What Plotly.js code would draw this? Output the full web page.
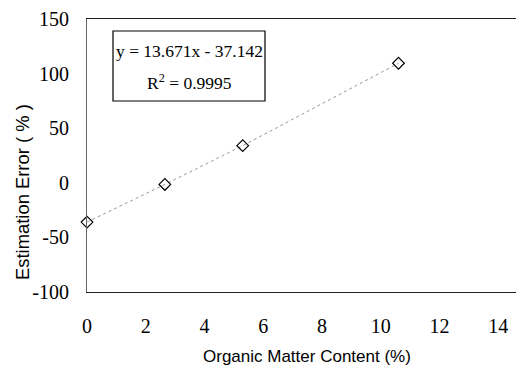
<!DOCTYPE html>
<html><head><meta charset="utf-8">
<script src="https://cdn.plot.ly/plotly-3.0.1.min.js"></script>
<style>html,body{margin:0;padding:0;background:#fff;}#chart{width:516px;height:365px;}</style>
</head><body><div id="chart"></div>
<script>
var organicMatter = [0, 2.65, 5.3, 10.6];
var estimationError = [-36, -1.5, 34, 109.5];
var xTicks = [0, 2, 4, 6, 8, 10, 12, 14];
var yTicks = [-100, -50, 0, 50, 100, 150];
var equationLine = 'y = 13.671x - 37.142';
var r2Line = 'R<sup>2</sup> = 0.9995';
var xTitle = 'Organic Matter Content (%)';
var yTitle = 'Estimation Error ( % )';

var traces = [{
  x: organicMatter, y: estimationError, type: 'scatter', mode: 'lines+markers',
  line: {color: '#999', width: 1, dash: 'dot'},
  marker: {symbol: 'diamond-open', size: 9, color: '#000', line: {width: 1.2, color: '#000'}},
  cliponaxis: false
}];
function px(x){return (x-87)/429;}
function py(y){return (292-y)/273;}
var sans = 'Liberation Sans';
var serif = 'Liberation Serif';
var layout = {
  width: 516, height: 365,
  margin: {l: 87, r: 0, t: 19, b: 73},
  paper_bgcolor: '#fff', plot_bgcolor: '#fff',
  showlegend: false,
  font: {family: serif, color: '#000', size: 20},
  xaxis: {
    range: [0, 14.6], tickmode: 'array', tickvals: xTicks, ticktext: xTicks.map(String),
    showgrid: false, zeroline: false, showline: true, linecolor: '#222', linewidth: 1.2,
    mirror: true, ticks: '', tickfont: {size: 20, family: serif, color: '#000'},
    ticklabelstandoff: 16
  },
  yaxis: {
    range: [-100, 150], tickmode: 'array', tickvals: yTicks, ticktext: yTicks.map(String),
    showgrid: false, zeroline: false, showline: true, linecolor: '#666', linewidth: 1,
    ticks: 'outside', ticklen: 13, tickcolor: 'rgba(0,0,0,0)', tickfont: {size: 20, family: serif, color: '#000'}
  },
  shapes: [{
    type: 'rect', xref: 'paper', yref: 'paper',
    x0: px(113), x1: px(265), y0: py(101), y1: py(31),
    line: {color: '#000', width: 1.2}, fillcolor: 'rgba(0,0,0,0)'
  }],
  annotations: [{
    xref: 'paper', yref: 'paper', x: px(189), y: py(51), xanchor: 'center', yanchor: 'middle',
    text: equationLine, showarrow: false,
    font: {family: serif, size: 17.5, color: '#000'}
  }, {
    xref: 'paper', yref: 'paper', x: px(189), y: py(82), xanchor: 'center', yanchor: 'middle',
    text: r2Line, showarrow: false,
    font: {family: serif, size: 17.5, color: '#000'}
  }, {
    xref: 'paper', yref: 'paper', x: px(307), y: py(356), xanchor: 'center', yanchor: 'middle',
    text: xTitle, showarrow: false,
    font: {family: sans, size: 17, color: '#000'}
  }, {
    xref: 'paper', yref: 'paper', x: px(22), y: py(192), xanchor: 'center', yanchor: 'middle',
    text: yTitle, showarrow: false, textangle: -90,
    font: {family: sans, size: 18.4, color: '#000'}
  }]
};
Plotly.newPlot('chart', traces, layout, {displayModeBar: false, staticPlot: true});
</script></body></html>
